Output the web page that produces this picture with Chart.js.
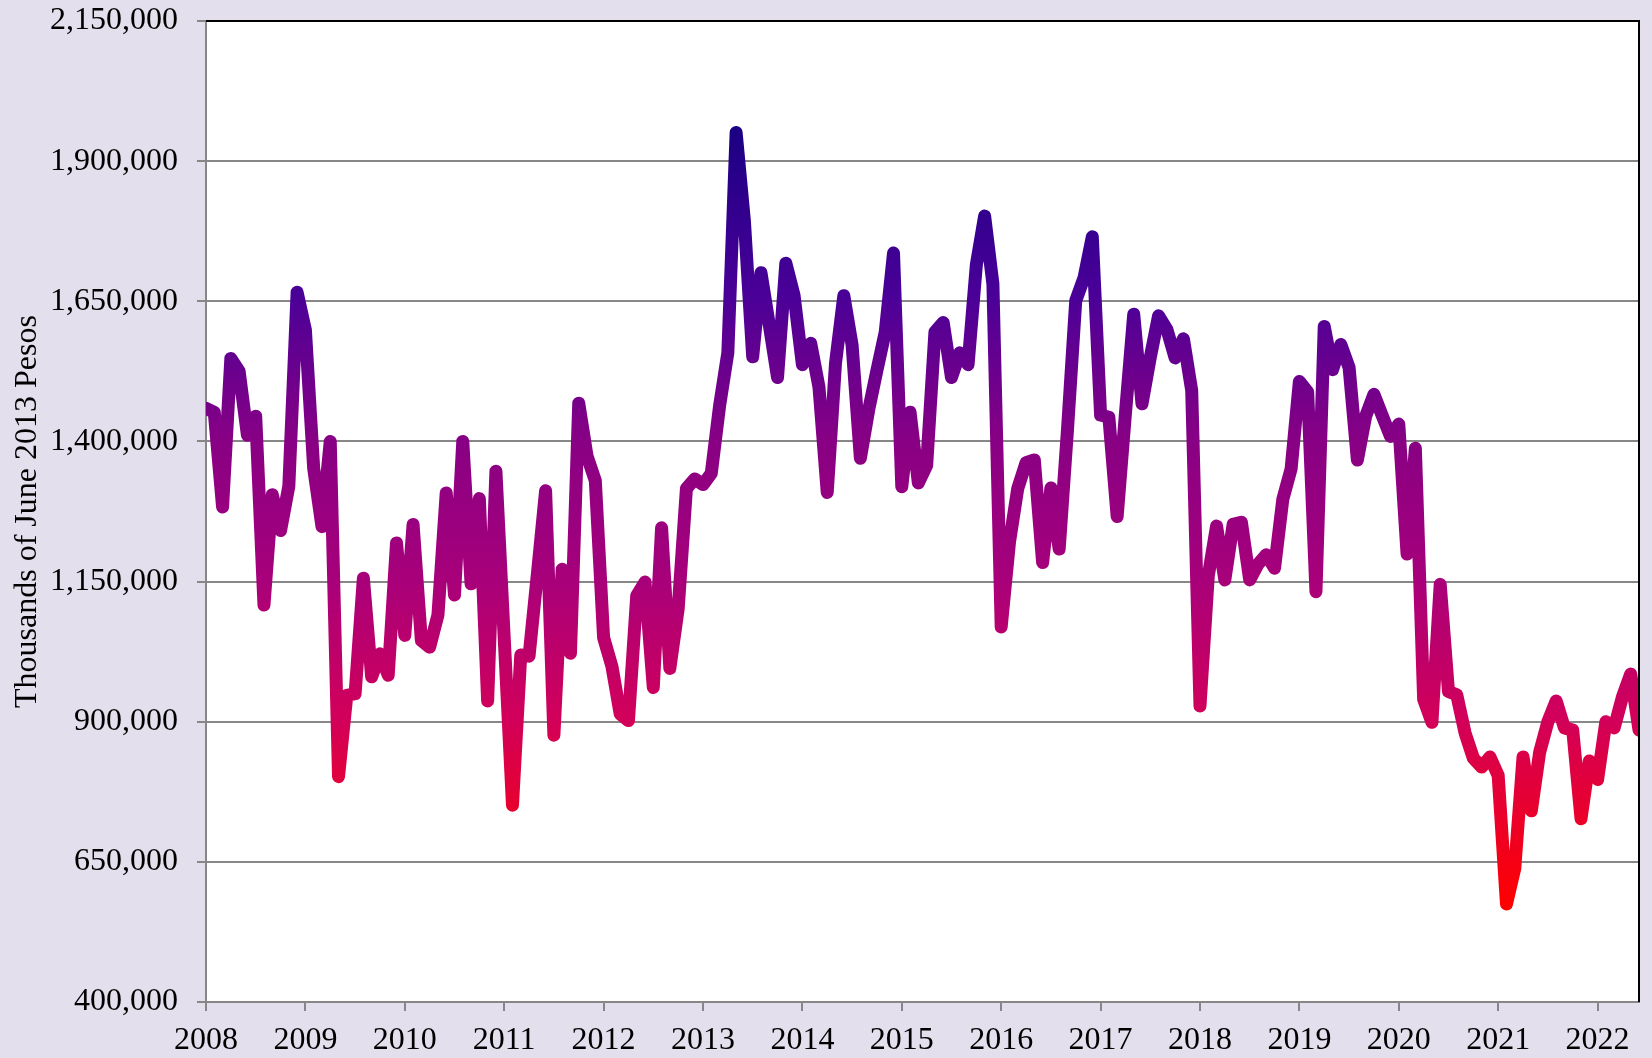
<!DOCTYPE html>
<html lang="en">
<head>
<meta charset="UTF-8">
<title>Thousands of June 2013 Pesos</title>
<script src="https://cdn.jsdelivr.net/npm/chart.js"></script>
<style>
  html, body { margin: 0; padding: 0; background: #e4dfec; }
  #wrap { width: 1652px; height: 1058px; }
</style>
</head>
<body>
<div id="wrap"><canvas id="pesosChart" width="1652" height="1058"></canvas></div>
<script>
// monthly series, Jan 2008 - Jun 2022 (thousands of June 2013 pesos)
const years = ['2008', '2009', '2010', '2011', '2012', '2013', '2014', '2015',
               '2016', '2017', '2018', '2019', '2020', '2021', '2022'];

const pesos = [
  1459000, 1452000, 1283000, 1548000, 1525000, 1411000, 1445000, 1108000, 1305000, 1241000, 1320000, 1666000,
  1599000, 1352000, 1248000, 1400000,  802000,  947000,  950000, 1156000,  980000, 1021000,  983000, 1219000,
  1054000, 1252000, 1045000, 1033000, 1090000, 1308000, 1126000, 1400000, 1146000, 1298000,  937000, 1347000,
  1050000,  751000, 1019000, 1017000, 1163000, 1312000,  876000, 1172000, 1022000, 1468000, 1374000, 1330000,
  1050000,  999000,  914000,  902000, 1125000, 1149000,  961000, 1246000,  995000, 1101000, 1316000, 1333000,
  1323000, 1343000, 1463000, 1558000, 1951000, 1793000, 1551000, 1701000, 1608000, 1514000, 1718000, 1660000,
  1537000, 1575000, 1497000, 1309000, 1540000, 1660000, 1572000, 1370000, 1456000, 1527000, 1595000, 1736000,
  1319000, 1452000, 1326000, 1357000, 1595000, 1612000, 1514000, 1558000, 1537000, 1715000, 1802000, 1681000,
  1069000, 1220000, 1316000, 1362000, 1367000, 1184000, 1317000, 1208000, 1420000, 1651000, 1692000, 1765000,
  1447000, 1443000, 1266000, 1450000, 1627000, 1467000, 1550000, 1624000, 1600000, 1549000, 1583000, 1491000,
   928000, 1160000, 1249000, 1153000, 1252000, 1256000, 1153000, 1181000, 1198000, 1174000, 1297000, 1351000,
  1507000, 1488000, 1132000, 1605000, 1528000, 1573000, 1532000, 1367000, 1445000, 1484000, 1446000, 1409000,
  1431000, 1199000, 1388000,  940000,  899000, 1145000,  954000,  948000,  880000,  835000,  819000,  837000,
   804000,  575000,  638000,  837000,  741000,  845000,  900000,  937000,  889000,  885000,  727000,  830000,
   797000,  900000,  889000,  944000,  985000,  885000
];

const monthLabels = pesos.map((v, i) =>
  years[Math.floor(i / 12)] + '-' + String(i % 12 + 1).padStart(2, '0'));

// colour runs from red at the lowest value to deep indigo at the highest
const gradientStops = [
  [0.00, '#ff0000'],
  [0.24, '#d2005a'],
  [0.42, '#a8007a'],
  [0.60, '#880084'],
  [0.79, '#4a0098'],
  [1.00, '#1c0084']
];

const axisGray = '#878787';
const serif = { family: "'Liberation Serif', 'Times New Roman', serif", size: 32 };

function lineGradient(context) {
  const chart = context.chart;
  const { ctx, chartArea, scales } = chart;
  if (!chartArea) return gradientStops[0][1];
  const yLow = scales.y.getPixelForValue(Math.min(...pesos));
  const yHigh = scales.y.getPixelForValue(Math.max(...pesos));
  const g = ctx.createLinearGradient(0, yLow, 0, yHigh);
  gradientStops.forEach(([t, c]) => g.addColorStop(t, c));
  return g;
}

// fixed axis sizes, no extra room for overhanging tick labels
function fixAxis(size) {
  return s => {
    if (s.isHorizontal()) s.height = size; else s.width = size;
    s.paddingTop = 0;
    s.paddingBottom = 0;
    s.paddingLeft = 0;
    s.paddingRight = 0;
  };
}

// white plot area plus black frame on top and right
const plotFrame = {
  id: 'plotFrame',
  beforeDraw(chart) {
    const { ctx, chartArea: a } = chart;
    ctx.save();
    ctx.fillStyle = '#ffffff';
    ctx.fillRect(a.left, a.top, a.right - a.left, a.bottom - a.top);
    ctx.restore();
  },
  afterDatasetsDraw(chart) {
    const { ctx, chartArea: a } = chart;
    ctx.save();
    ctx.strokeStyle = '#000000';
    ctx.lineWidth = 2;
    ctx.beginPath();
    ctx.moveTo(a.left, a.top);
    ctx.lineTo(a.right, a.top);
    ctx.lineTo(a.right, a.bottom);
    ctx.stroke();
    ctx.restore();
  }
};

const ctx = document.getElementById('pesosChart').getContext('2d');
new Chart(ctx, {
  type: 'line',
  data: {
    labels: monthLabels,
    datasets: [{
      data: pesos,
      borderColor: lineGradient,
      borderWidth: 13,
      pointRadius: 0,
      tension: 0,
      borderJoinStyle: 'round',
      borderCapStyle: 'round',
      clip: 0
    }]
  },
  options: {
    responsive: false,
    animation: false,
    devicePixelRatio: 1,
    layout: { padding: { top: 21, right: 13, left: 0, bottom: 0 } },
    plugins: { legend: { display: false }, tooltip: { enabled: false } },
    scales: {
      x: {
        type: 'category',
        offset: false,
        afterFit: fixAxis(56),
        border: { color: axisGray, width: 2 },
        grid: {
          drawOnChartArea: false,
          tickLength: 9,
          lineWidth: 2,
          color: c => (c.index % 12 === 0 ? axisGray : 'rgba(0,0,0,0)')
        },
        ticks: {
          autoSkip: false,
          maxRotation: 0,
          minRotation: 0,
          padding: 10,
          color: '#000',
          font: serif,
          callback: (val, i) => (i % 12 === 0 ? years[i / 12] : '')
        }
      },
      y: {
        min: 400000,
        max: 2150000,
        afterFit: fixAxis(206),
        border: { color: axisGray, width: 2 },
        grid: { color: axisGray, lineWidth: 2, tickLength: 9 },
        ticks: {
          stepSize: 250000,
          padding: 19,
          color: '#000',
          font: serif,
          callback: v => v.toLocaleString('en-US')
        },
        title: {
          display: true,
          text: 'Thousands of June 2013 Pesos',
          color: '#000',
          font: serif,
          padding: { top: 8, bottom: 0 }
        }
      }
    }
  },
  plugins: [plotFrame]
});
</script>
</body>
</html>
